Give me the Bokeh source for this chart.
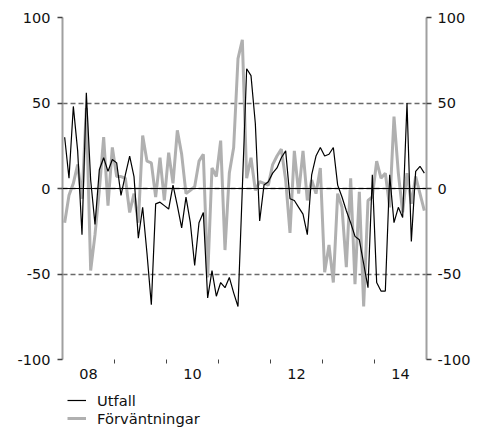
from bokeh.plotting import figure
from bokeh.layouts import column
from bokeh.models import (Range1d, FixedTicker, LinearAxis, Span, Legend, LegendItem)
from bokeh.embed import file_html
from bokeh.resources import INLINE

# ---- data (monthly, Jan 2008 - Dec 2014) ----
start_year = 2008
n_months = 84
utfall = [30, 6, 48, 22, -27, 56, 5, -21, 11, 18, 10, 17,
          15, -4, 8, 19, 7, -29, -11, -38, -68, -9, -8, -10,
          -12, 2, -10, -23, -5, -20, -45, -20, -14, -64, -48, -63,
          -55, -58, -52, -61, -69, 0, 70, 66, 38, -19, 2, 4,
          9, 12, 18, 22, -6, -7, -11, -15, -27, 8, 19, 24,
          19, 20, 24, 2, -5, -13, -20, -28, -30, -44, -58, 8,
          -55, -60, -60, 8, -20, -11, -17, 50, -31, 10, 13, 9]
forvantningar = [-20, -4, 3, 14, -6, 47, -48, -27, -1, 30, -10, 24,
                 7, 7, 6, -14, -3, -20, 31, 16, 15, -5, 18, -7,
                 21, 3, 34, 20, -3, -1, 1, 16, 20, -52, 12, 7,
                 28, -36, 9, 24, 76, 87, 6, 18, -1, 4, 3, 2,
                 14, 19, 23, 5, -26, 22, -3, 22, -7, 5, -3, 12,
                 -49, -33, -55, -3, -11, -46, 6, -56, -2, -69, -7, -5,
                 16, 6, 9, -11, 42, 9, -14, 9, -9, 7, -3, -13]
series_names = ["Utfall", "Förväntningar"]
year_label_pos = [2008.5, 2010.5, 2012.5, 2014.5]
year_labels = ["08", "10", "12", "14"]
year_bounds = [2009, 2010, 2011, 2012, 2013, 2014]
y_ticks = [-100, -50, 0, 50, 100]
y_tick_labels = ["-100", "-50", "0", "50", "100"]

x = [start_year + (i + 0.5) / 12.0 for i in range(n_months)]

FONT = "DejaVu Sans"
FSIZE = "14.5px"
GRAY_LINE = "#b0b0b0"
BLACK_W = 1.2
GRAY_W = 3

p = figure(width=478, height=384, output_backend="svg", toolbar_location=None,
           x_range=Range1d(2008, 2015), y_range=Range1d(-100, 100),
           min_border_left=62, min_border_right=52, min_border_top=17,
           min_border_bottom=25)
p.outline_line_color = None
p.background_fill_color = "white"
p.border_fill_color = "white"

# grid
p.xgrid.visible = False
p.ygrid.ticker = FixedTicker(ticks=y_ticks)
p.ygrid.grid_line_color = "#6a6a6a"
p.ygrid.grid_line_dash = "5 3"
p.ygrid.grid_line_width = 1.5

# lines
p.line(x, forvantningar, line_color=GRAY_LINE, line_width=GRAY_W)
p.line(x, utfall, line_color="black", line_width=BLACK_W)

p.add_layout(Span(location=0, dimension="width", line_color="black", line_width=1.2))

# y axes
def style_y(ax, standoff):
    ax.ticker = FixedTicker(ticks=y_ticks)
    ax.major_label_overrides = {k: v for k, v in zip(y_ticks, y_tick_labels)}
    ax.axis_line_color = "#a0a0a0"
    ax.axis_line_width = 2
    ax.major_tick_line_color = "#444444"
    ax.major_tick_line_width = 1.3
    ax.major_tick_out = 5
    ax.major_tick_in = 0
    ax.minor_tick_line_color = None
    ax.major_label_text_font = FONT
    ax.major_label_text_font_size = FSIZE
    ax.major_label_text_color = "#111111"
    ax.major_label_standoff = standoff

style_y(p.yaxis[0], 7)
ry = LinearAxis()
style_y(ry, 6)
p.add_layout(ry, "right")

# x axis
xa = p.xaxis[0]
xa.ticker = FixedTicker(ticks=year_label_pos, minor_ticks=year_bounds)
xa.major_label_overrides = {k: v for k, v in zip(year_label_pos, year_labels)}
xa.axis_line_color = None
xa.major_tick_line_color = None
xa.minor_tick_line_color = "#444444"
xa.minor_tick_out = 4
xa.minor_tick_in = 0
xa.major_label_text_font = FONT
xa.major_label_text_font_size = FSIZE
xa.major_label_text_color = "#111111"
xa.major_label_standoff = 3

# ---- legend strip below the chart (series drawn off-range, legend only) ----
q = figure(width=478, height=43, output_backend="svg", toolbar_location=None,
           x_axis_type=None, y_axis_type=None,
           x_range=Range1d(0, 1), y_range=Range1d(1000, 1001),
           min_border_left=0, min_border_right=0, min_border_top=0, min_border_bottom=0)
q.outline_line_color = None
q.xgrid.visible = False
q.ygrid.visible = False
lu = q.line(x, utfall, line_color="black", line_width=BLACK_W)
lf = q.line(x, forvantningar, line_color=GRAY_LINE, line_width=GRAY_W)

legend = Legend(items=[LegendItem(label=series_names[0], renderers=[lu]),
                       LegendItem(label=series_names[1], renderers=[lf])],
                location=(5, 0), orientation="vertical",
                border_line_color=None, background_fill_alpha=0,
                padding=0, margin=0, spacing=0,
                glyph_width=19, glyph_height=18, label_height=18,
                label_standoff=11, label_text_font=FONT,
                label_text_font_size="14.7px", label_text_color="#111111")
q.add_layout(legend, "center")

layout = column(p, q, spacing=0)
open("out.html", "w").write(file_html(layout, INLINE))
